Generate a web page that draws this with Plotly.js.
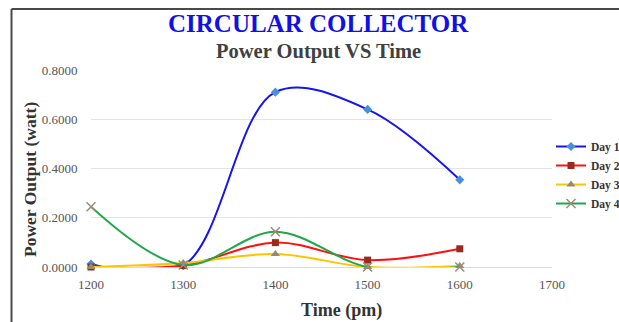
<!DOCTYPE html>
<html>
<head>
<meta charset="utf-8">
<script src="https://cdn.plot.ly/plotly-3.0.1.min.js"></script>
<style>
html,body{margin:0;padding:0;background:#fff;}
#chart{width:619px;height:322px;}
</style>
</head>
<body>
<div id="chart"></div>
<script>
const times = [1200, 1300, 1400, 1500, 1600];
const day1 = [0.012, 0.005, 0.710, 0.640, 0.354];
const day2 = [0.000, 0.006, 0.099, 0.028, 0.074];
const day3 = [0.000, 0.016, 0.053, 0.000, 0.004];
const day4 = [0.245, 0.008, 0.143, 0.000, 0.000];
const seriesNames = ["Day 1", "Day 2", "Day 3", "Day 4"];
const xTicks = [1200, 1300, 1400, 1500, 1600, 1700];
const yTicks = [0, 0.2, 0.4, 0.6, 0.8];

const lineColors = ["#1414f0", "#ff1010", "#ffc400", "#1ea84a"];
const markerColors = ["#4a8fdc", "#9b2a1e", "#968b6a", "#a08a7e"];
const symbols = ["diamond", "square", "triangle-up", "x-thin-open"];
const data = [day1, day2, day3, day4];
const serif = "Liberation Serif, Times New Roman, serif";

const traces = data.map((ys, i) => ({
  x: times, y: ys, name: seriesNames[i], type: "scatter", mode: "lines+markers",
  line: {color: lineColors[i], width: 2, shape: "spline", smoothing: 1},
  marker: {color: markerColors[i], symbol: symbols[i], size: i === 3 ? 9 : (i === 2 ? 8 : 7),
           line: {color: markerColors[i], width: i === 3 ? 1.5 : 0}},
  cliponaxis: false
}));

const L = 91, R = 552, T = 70, B = 267;
const px = v => (v - L) / (R - L);
const py = v => (B - v) / (B - T);

const layout = {
  width: 619, height: 322,
  margin: {l: L, r: 619 - R, t: T, b: 322 - B, autoexpand: false},
  paper_bgcolor: "#fff", plot_bgcolor: "#fff",
  showlegend: true,
  legend: {xref: "container", yref: "container", x: 551 / 619, y: 1 - 132 / 322,
           xanchor: "left", yanchor: "top",
           font: {family: serif, size: 11.5, color: "#333", weight: "bold"},
           tracegroupgap: 0, itemwidth: 30, bgcolor: "rgba(0,0,0,0)"},
  xaxis: {range: [1200, 1700], tickvals: xTicks, ticktext: xTicks.map(String),
          showgrid: false, zeroline: false, showline: false,
          ticks: "outside", ticklen: 5, tickcolor: "rgba(0,0,0,0)",
          tickfont: {family: serif, size: 13, color: "#555"}, fixedrange: true, automargin: false},
  yaxis: {range: [0, 0.8], tickvals: yTicks, tickformat: ".4f",
          showgrid: true, gridcolor: "#e3e3e3", gridwidth: 1, zeroline: true,
          zerolinecolor: "#d9d9d9", showline: false,
          ticks: "outside", ticklen: 10, tickcolor: "rgba(0,0,0,0)",
          tickfont: {family: serif, size: 13, color: "#555"}, fixedrange: true, automargin: false},
  annotations: [
    {xref: "paper", yref: "paper", x: px(318), y: py(23), text: "<b>CIRCULAR COLLECTOR</b>",
     showarrow: false, font: {family: serif, size: 25, color: "#1010e8"}, xanchor: "center", yanchor: "middle"},
    {xref: "paper", yref: "paper", x: px(318), y: py(51), text: "<b>Power Output VS Time</b>",
     showarrow: false, font: {family: serif, size: 20.5, color: "#404040"}, xanchor: "center", yanchor: "middle"},
    {xref: "paper", yref: "paper", x: px(341), y: py(310), text: "<b>Time (pm)</b>",
     showarrow: false, font: {family: serif, size: 18, color: "#333"}, xanchor: "center", yanchor: "middle"},
    {xref: "paper", yref: "paper", x: px(30), y: py(179), text: "<b>Power Output (watt)</b>", textangle: -90,
     showarrow: false, font: {family: serif, size: 17.5, color: "#333"}, xanchor: "center", yanchor: "middle"}
  ],
  shapes: [
    {type: "line", xref: "paper", yref: "paper", x0: px(11.5), x1: px(11.5), y0: py(9), y1: py(330),
     line: {color: "#4a4a4a", width: 2}},
    {type: "line", xref: "paper", yref: "paper", x0: px(11.5), x1: px(630), y0: py(9), y1: py(9),
     line: {color: "#4a4a4a", width: 2}}
  ]
};

Plotly.newPlot("chart", traces, layout, {displayModeBar: false, staticPlot: true});
</script>
</body>
</html>
